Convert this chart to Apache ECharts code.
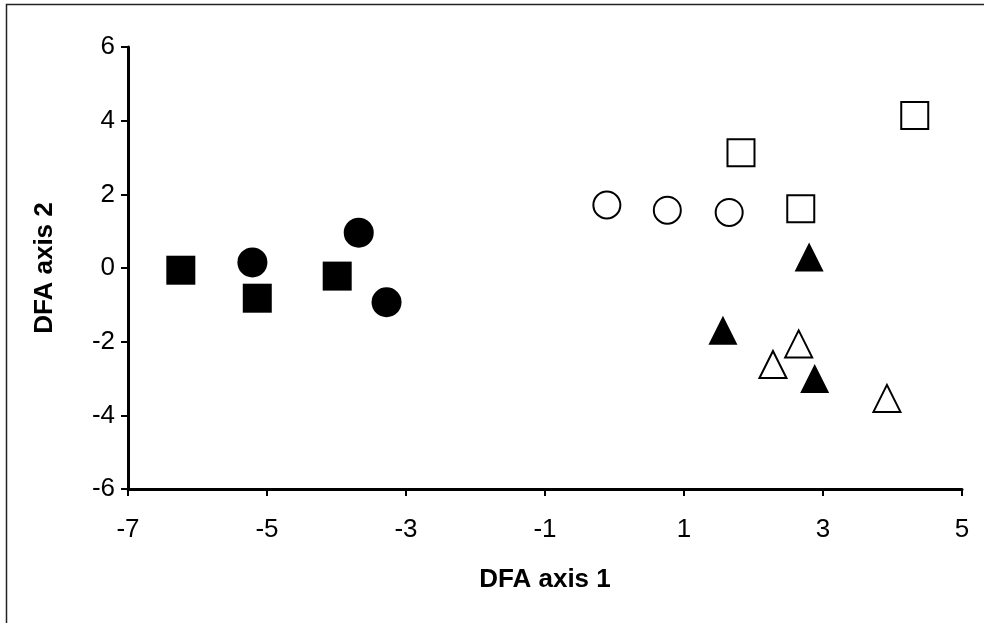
<!DOCTYPE html>
<html>
<head>
<meta charset="utf-8">
<script src="https://cdn.jsdelivr.net/npm/echarts@6/dist/echarts.min.js"></script>
<style>
  html, body { margin: 0; padding: 0; background: #fff; }
  #chart { width: 984px; height: 623px; }
</style>
</head>
<body>
<div id="chart"></div>
<script>
// data: [DFA axis 1, DFA axis 2]
var filledSquares = [[-6.24, -0.06], [-5.14, -0.82], [-3.99, -0.22]];
var filledCircles = [[-5.21, 0.15], [-3.68, 0.96], [-3.28, -0.93]];
var openCircles = [[-0.11, 1.71], [0.76, 1.57], [1.65, 1.51]];
var openSquares = [[1.82, 3.13], [2.68, 1.61], [4.32, 4.14]];
var filledTriangles = [[2.80, 0.30], [1.56, -1.69], [2.88, -3.00]];
var openTriangles = [[2.28, -2.62], [2.65, -2.06], [3.92, -3.54]];

var xTicks = [-7, -5, -3, -1, 1, 3, 5];
var yTicks = [-6, -4, -2, 0, 2, 4, 6];

var font = 'Liberation Sans, Arial, sans-serif';

function filled(name, shape, data, size) {
  return {
    name: name, type: 'scatter', symbol: shape, symbolSize: size, data: data,
    itemStyle: { color: '#000', borderWidth: 0, opacity: 1 },
    emphasis: { disabled: true }
  };
}
function hollow(name, shape, data, size) {
  return {
    name: name, type: 'scatter', symbol: shape, symbolSize: size, data: data,
    itemStyle: { color: '#fff', borderColor: '#000', borderWidth: 2, opacity: 1 },
    emphasis: { disabled: true }
  };
}

var chart = echarts.init(document.getElementById('chart'), null, { renderer: 'canvas' });
chart.setOption({
  animation: false,
  backgroundColor: '#fff',
  graphic: [{
    type: 'rect', silent: true,
    shape: { x: 6.5, y: 4.5, width: 1100, height: 800 },
    style: { fill: 'none', stroke: '#222', lineWidth: 1.5 }
  }],
  grid: { left: 128, right: 22, top: 47, bottom: 134, containLabel: false },
  xAxis: {
    type: 'value', min: -7, max: 5, interval: 2,
    name: 'DFA axis 1', nameLocation: 'middle', nameGap: 78,
    nameTextStyle: { fontFamily: font, fontSize: 26, fontWeight: 'bold', color: '#000' },
    axisLine: { show: true, onZero: false, lineStyle: { color: '#000', width: 3 } },
    axisTick: { show: true, length: 7, lineStyle: { color: '#000', width: 2 } },
    axisLabel: {
      margin: 28, fontFamily: font, fontSize: 26, color: '#000',
      formatter: function (v) { return xTicks.indexOf(v) >= 0 ? String(v) : ''; }
    },
    splitLine: { show: false }
  },
  yAxis: {
    type: 'value', min: -6, max: 6, interval: 2,
    name: 'DFA axis 2', nameLocation: 'middle', nameGap: 70, nameRotate: 90,
    nameTextStyle: { fontFamily: font, fontSize: 26, fontWeight: 'bold', color: '#000' },
    axisLine: { show: true, onZero: false, lineStyle: { color: '#000', width: 3 } },
    axisTick: { show: true, length: 7, lineStyle: { color: '#000', width: 2 } },
    axisLabel: {
      margin: 13, fontFamily: font, fontSize: 26, color: '#000',
      formatter: function (v) { return yTicks.indexOf(v) >= 0 ? String(v) : ''; }
    },
    splitLine: { show: false }
  },
  series: [
    filled('filled squares', 'rect', filledSquares, 29),
    filled('filled circles', 'circle', filledCircles, 30),
    hollow('open circles', 'circle', openCircles, 27),
    hollow('open squares', 'rect', openSquares, 27),
    filled('filled triangles', 'triangle', filledTriangles, 29),
    hollow('open triangles', 'triangle', openTriangles, 27)
  ]
});
</script>
</body>
</html>
